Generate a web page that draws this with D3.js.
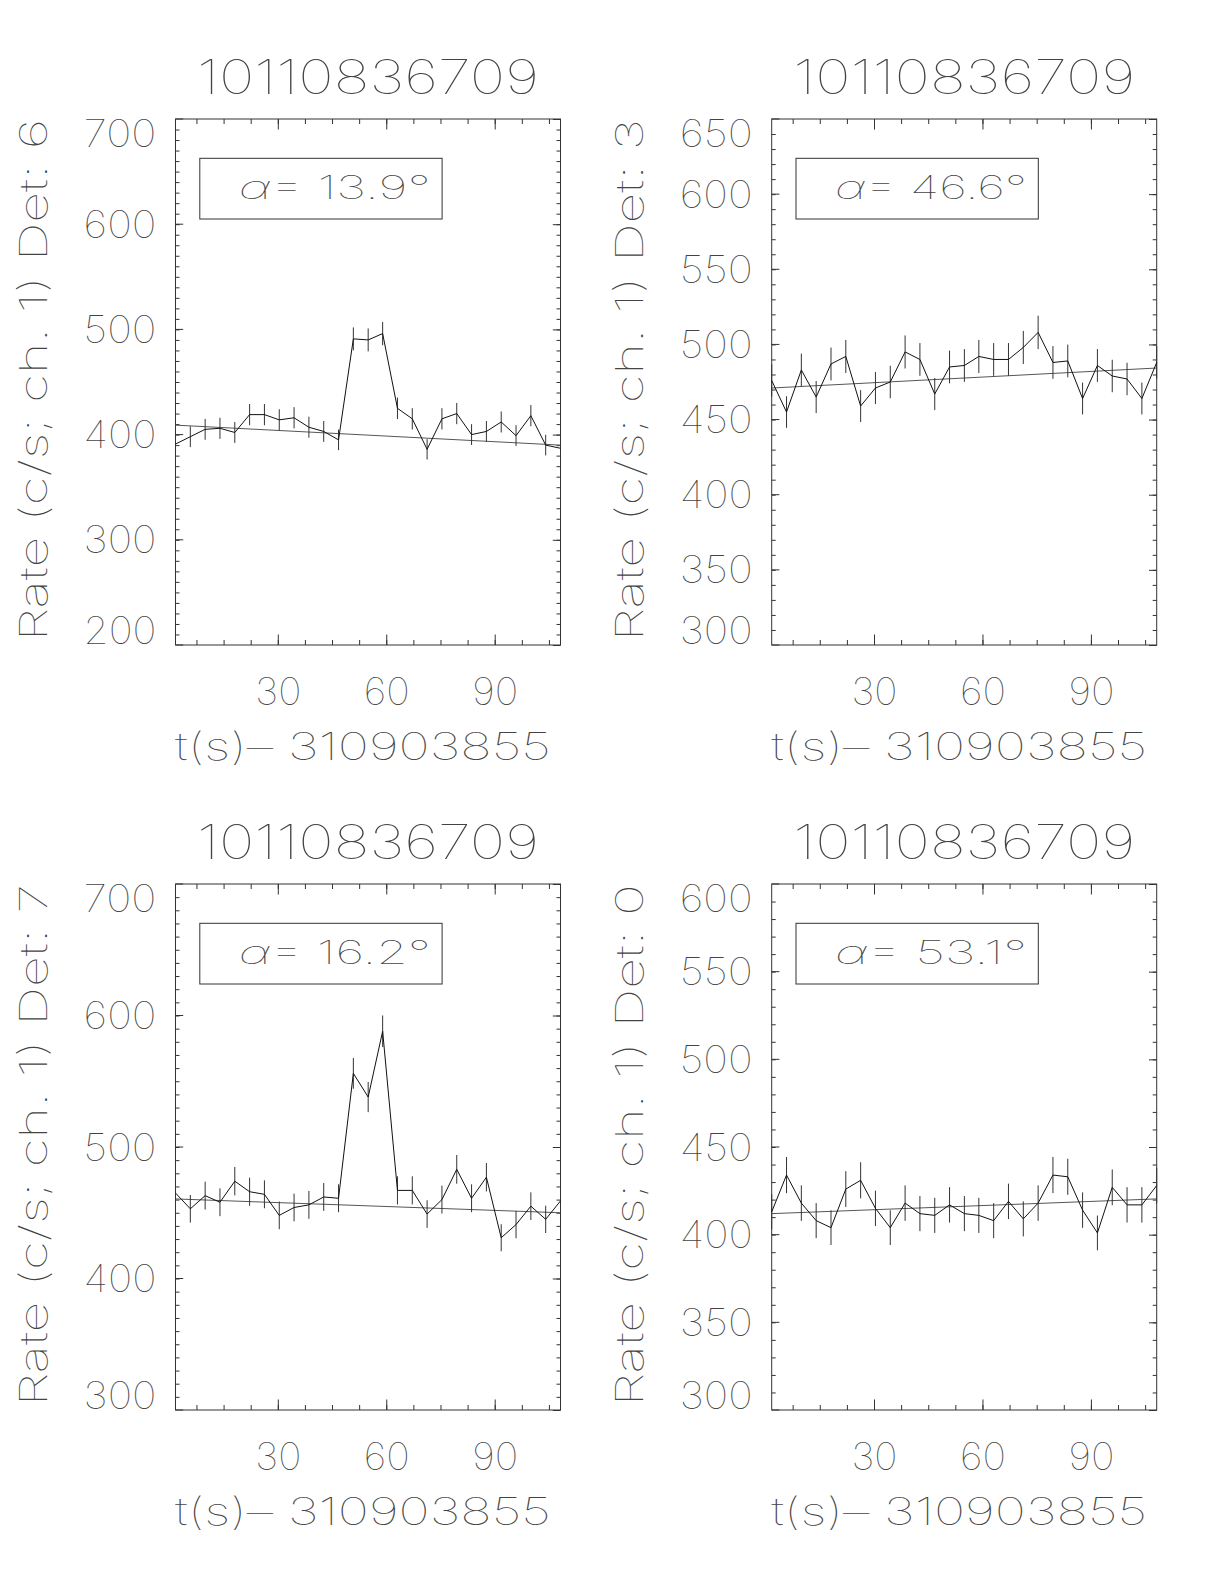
<!DOCTYPE html>
<html><head><meta charset="utf-8">
<script src="https://cdn.jsdelivr.net/npm/d3@7"></script>
<style>
body{margin:0;background:#fff;}
text{font-family:Inter,Lato,Roboto,"DejaVu Sans",sans-serif;font-weight:100;fill:#444;}
</style></head><body>
<svg id="c" width="1224" height="1584"></svg>
<script>
// ---------- data ----------
const titles = ["10110836709","10110836709","10110836709","10110836709"];
const detectors = ["6","3","7","0"];
const alphas = ["13.9","46.6","16.2","53.1"];
const xLabel = "t(s)\u2013 310903855";
const yDomains = [[200,700],[300,650],[300,700],[300,600]];
const yTickLabels = [
  [200,300,400,500,600,700],
  [300,350,400,450,500,550,600,650],
  [300,400,500,600,700],
  [300,350,400,450,500,550,600]
];
const yMinorStep = [10,10,10,10];
const xTickLabels = [30,60,90];
const xMinorTicks = [7.5,15,22.5,30,37.5,45,52.5,60,67.5,75,82.5,90,97.5,105];
const times = [1.7,5.8,9.9,14.0,18.1,22.2,26.3,30.4,34.5,38.6,42.7,46.8,50.9,55.0,
  59.0,63.1,67.2,71.3,75.4,79.5,83.6,87.7,91.8,95.9,100.0,104.1,108.2];
const rates6 = [391,398,405,406,402,419,419,414,416,407,403,395,491,490,496,425,415,386,415,420,400,403,412,399,418,390,387];
const errs6  = [9.8,9.9,9.9,10.0,9.9,10.1,10.1,10.1,10.1,10.0,9.9,9.8,10.9,10.9,11.0,10.2,10.1,9.7,10.1,10.1,9.9,9.9,10.0,9.9,10.1,9.8,9.7];
const rates3 = [476,455,483,465,487,492,459,471,475,495,490,467,485,486,492,490,490,498,508,488,489,464,486,479,477,464,488];
const errs3  = [10.8,10.5,10.9,10.7,10.9,11.0,10.6,10.7,10.8,11.0,10.9,10.7,10.9,10.9,11.0,10.9,10.9,11.0,11.1,10.9,10.9,10.6,10.9,10.8,10.8,10.6,10.9];
const rates7 = [465,453,463,458,474,466,464,448,454,456,462,461,556,538,588,467,467,449,460,483,461,477,431,441,455,445,459];
const errs7  = [10.7,10.5,10.6,10.6,10.8,10.7,10.6,10.5,10.5,10.6,10.6,10.6,11.7,11.5,12.0,10.7,10.7,10.5,10.6,10.9,10.6,10.8,10.3,10.4,10.5,10.4,10.6];
const rates0 = [413,434,418,408,404,426,431,415,404,418,412,411,417,412,411,408,419,409,418,434,433,414,401,427,417,417,428];
const errs0  = [10.0,10.3,10.1,10.0,9.9,10.2,10.3,10.1,9.9,10.1,10.0,10.0,10.1,10.0,10.0,10.0,10.1,10.0,10.1,10.3,10.3,10.1,9.9,10.2,10.1,10.1,10.2];
const rates = [rates6, rates3, rates7, rates0];
const errs = [errs6, errs3, errs7, errs0];
const fitStart = [409, 471, 460.5, 412];
const fitEnd   = [390, 484.3, 450, 420.4];

// ---------- layout ----------
const svg = d3.select("#c");
const W = 385, H = 526;
const origins = [[175.5,119],[771.7,119],[175.5,884],[771.7,884]];
const ink = "#333";
const capH = 27;

rates.forEach((rv, k) => {
  const [ox, oy] = origins[k];
  const g = svg.append("g").attr("transform", `translate(${ox},${oy})`);
  const x = d3.scaleLinear().domain([times[0], times[times.length-1]]).range([0, W]);
  const y = d3.scaleLinear().domain(yDomains[k]).range([H, 0]);
  const [y0, y1] = yDomains[k];
  const yMinor = d3.range(y0 + yMinorStep[k], y1, yMinorStep[k]);

  const styleAxis = sel => {
    sel.select(".domain").remove();
    sel.selectAll("line").attr("stroke", ink).attr("stroke-width", 1);
  };
  // minor ticks
  g.append("g").attr("transform", `translate(0,${H})`)
    .call(d3.axisBottom(x).tickValues(xMinorTicks).tickSize(-5).tickFormat("")).call(styleAxis);
  g.append("g")
    .call(d3.axisTop(x).tickValues(xMinorTicks).tickSize(-5).tickFormat("")).call(styleAxis);
  g.append("g")
    .call(d3.axisLeft(y).tickValues(yMinor).tickSize(-4).tickFormat("")).call(styleAxis);
  g.append("g").attr("transform", `translate(${W},0)`)
    .call(d3.axisRight(y).tickValues(yMinor).tickSize(-4).tickFormat("")).call(styleAxis);
  // major ticks
  const bx = g.append("g").attr("transform", `translate(0,${H})`)
    .call(d3.axisBottom(x).tickValues(xTickLabels).tickSize(-10.5).tickFormat(d3.format("d"))).call(styleAxis);
  bx.selectAll("text").attr("y", 60).attr("dy", 0)
    .style("font-size", "38px").attr("fill", null)
    .attr("textLength", d => String(d).length * 23).attr("lengthAdjust", "spacingAndGlyphs");
  g.append("g")
    .call(d3.axisTop(x).tickValues(xTickLabels).tickSize(-10.5).tickFormat("")).call(styleAxis);
  const ly = g.append("g")
    .call(d3.axisLeft(y).tickValues(yTickLabels[k]).tickSize(-7.7).tickFormat(d3.format("d"))).call(styleAxis);
  ly.selectAll(".tick").attr("transform", null);
  ly.selectAll(".tick line").attr("y1", d => y(d)).attr("y2", d => y(d));
  ly.selectAll("text").attr("x", -19).attr("dy", 0)
    .attr("y", d => Math.min(Math.max(y(d), capH/2 + 1), H - capH/2 - 1) + capH/2)
    .style("font-size", "38px").attr("fill", null)
    .attr("textLength", d => String(d).length * 24.3).attr("lengthAdjust", "spacingAndGlyphs");
  g.append("g").attr("transform", `translate(${W},0)`)
    .call(d3.axisRight(y).tickValues(yTickLabels[k]).tickSize(-7.7).tickFormat("")).call(styleAxis);

  // frame
  g.append("rect").attr("width", W).attr("height", H)
    .attr("fill", "none").attr("stroke", ink).attr("stroke-width", 1);

  // fit line
  g.append("line")
    .attr("x1", x(times[0])).attr("y1", y(fitStart[k]))
    .attr("x2", x(times[times.length-1])).attr("y2", y(fitEnd[k]))
    .attr("stroke", "#555").attr("stroke-width", 1);

  // error bars
  const pts = times.map((t, i) => ({t, v: rv[i], e: errs[k][i]}));
  g.selectAll("line.err").data(pts).enter().append("line").attr("class", "err")
    .attr("x1", d => x(d.t)).attr("x2", d => x(d.t))
    .attr("y1", d => y(d.v - d.e)).attr("y2", d => y(d.v + d.e))
    .attr("stroke", "#333").attr("stroke-width", 1);

  // data line
  g.append("path").datum(pts)
    .attr("d", d3.line().x(d => x(d.t)).y(d => y(d.v)))
    .attr("fill", "none").attr("stroke", "#111").attr("stroke-width", 1);

  // alpha box
  g.append("rect").attr("x", 24.3).attr("y", 39.3).attr("width", 242.3).attr("height", 60.7)
    .attr("fill", "none").attr("stroke", ink).attr("stroke-width", 1);
  const at = g.append("text").attr("x", 63.3).attr("y", 80.3)
    .style("font-size", "33px").attr("textLength", 192).attr("lengthAdjust", "spacingAndGlyphs");
  at.append("tspan").style("font-style", "italic").text("α");
  at.append("tspan").text("=  " + alphas[k] + "°");

  // title
  g.append("text").attr("x", W/2).attr("y", -25).attr("text-anchor", "middle")
    .style("font-size", "47px").attr("textLength", 342).attr("lengthAdjust", "spacingAndGlyphs")
    .text(titles[k]);

  // x title
  g.append("text").attr("x", W/2 - 5).attr("y", H + 115).attr("text-anchor", "middle")
    .style("font-size", "38px").attr("textLength", 376).attr("lengthAdjust", "spacingAndGlyphs")
    .text(xLabel);

  // y title
  g.append("text").attr("transform", `translate(-128.5,${H/2 - 2}) rotate(-90)`)
    .attr("text-anchor", "middle")
    .style("font-size", "38px").attr("textLength", 522).attr("lengthAdjust", "spacingAndGlyphs")
    .text("Rate (c/s; ch. 1) Det: " + detectors[k]);
});
</script>
</body></html>
